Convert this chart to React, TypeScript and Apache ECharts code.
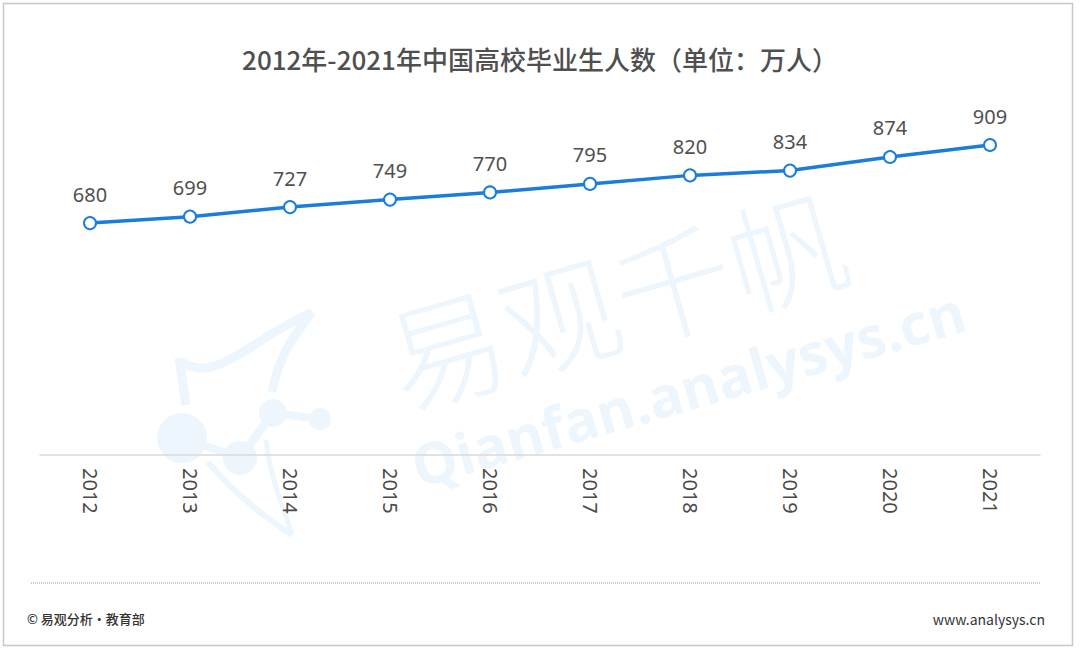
import React, { useEffect, useRef } from "react";
import * as echarts from "echarts";

const categories = ["2012", "2013", "2014", "2015", "2016", "2017", "2018", "2019", "2020", "2021"];
const graduates = [680, 699, 727, 749, 770, 795, 820, 834, 874, 909];
const titleText = "2012年-2021年中国高校毕业生人数（单位：万人）";
const sourceText = "© 易观分析·教育部";
const siteText = "www.analysys.cn";

const WM = "#edf6fd";

export default function App() {
  const ref = useRef<HTMLDivElement>(null);
  useEffect(() => {
    if (!ref.current) return;
    const chart = echarts.init(ref.current, null, { renderer: "svg" });
    const rot = (16 * Math.PI) / 180;
    chart.setOption({
      animation: false,
      backgroundColor: "#ffffff",
      title: {
        text: titleText,
        left: "center",
        top: 40,
        textStyle: {
          fontFamily: "Noto Sans CJK SC",
          fontSize: 26,
          fontWeight: 500,
          color: "#4f4f4f",
        },
      },
      graphic: [
        {
          type: "rect",
          z: -10,
          shape: { x: 3.5, y: 3.5, width: 1069, height: 642 },
          style: { fill: "#ffffff", stroke: "#c8c8c8", lineWidth: 1.5 },
        },
        // watermark logo
        { type: "circle", z: -5, shape: { cx: 182, cy: 438, r: 25 }, style: { fill: WM } },
        { type: "circle", z: -5, shape: { cx: 240, cy: 458, r: 17 }, style: { fill: WM } },
        { type: "circle", z: -5, shape: { cx: 273, cy: 413, r: 14 }, style: { fill: WM } },
        { type: "circle", z: -5, shape: { cx: 320, cy: 419, r: 11 }, style: { fill: WM } },
        { type: "line", z: -5, shape: { x1: 182, y1: 438, x2: 240, y2: 458 }, style: { stroke: WM, lineWidth: 8 } },
        { type: "line", z: -5, shape: { x1: 240, y1: 458, x2: 273, y2: 413 }, style: { stroke: WM, lineWidth: 8 } },
        { type: "line", z: -5, shape: { x1: 273, y1: 413, x2: 320, y2: 419 }, style: { stroke: WM, lineWidth: 8 } },
        { type: "line", z: -5, shape: { x1: 179, y1: 358, x2: 186, y2: 405 }, style: { stroke: WM, lineWidth: 9 } },
        {
          type: "bezierCurve", z: -5,
          shape: { x1: 182, y1: 362, x2: 312, y2: 312, cpx1: 215, cpy1: 385, cpx2: 250, cpy2: 340 },
          style: { stroke: WM, lineWidth: 9, fill: "none" },
        },
        {
          type: "bezierCurve", z: -5,
          shape: { x1: 312, y1: 312, x2: 272, y2: 392, cpx1: 290, cpy1: 340, cpx2: 278, cpy2: 360 },
          style: { stroke: WM, lineWidth: 9, fill: "none" },
        },
        {
          type: "bezierCurve", z: -5,
          shape: { x1: 208, y1: 462, x2: 292, y2: 535, cpx1: 240, cpy1: 500, cpx2: 270, cpy2: 520 },
          style: { stroke: WM, lineWidth: 6, fill: "none" },
        },
        {
          type: "bezierCurve", z: -5,
          shape: { x1: 266, y1: 440, x2: 292, y2: 535, cpx1: 270, cpy1: 480, cpx2: 285, cpy2: 510 },
          style: { stroke: WM, lineWidth: 5, fill: "none" },
        },
        // watermark text
        {
          type: "text", z: -5,
          x: 615, y: 295, rotation: rot,
          style: {
            text: "易观千帆",
            fontFamily: "Noto Sans CJK SC",
            fontSize: 118,
            fontWeight: 300,
            fill: WM,
            align: "center",
            verticalAlign: "middle",
          },
        },
        {
          type: "text", z: -5,
          x: 688, y: 388, rotation: rot,
          style: {
            text: "Qianfan.analysys.cn",
            fontFamily: "Open Sans",
            fontSize: 57,
            fontWeight: "bold",
            fill: WM,
            align: "center",
            verticalAlign: "middle",
          },
        },
        // dotted separator
        {
          type: "line",
          shape: { x1: 31, y1: 583, x2: 1041, y2: 583 },
          style: { stroke: "#9a9a9a", lineWidth: 1, lineDash: [1, 1] },
        },
        {
          type: "text",
          x: 27, y: 618,
          style: {
            text: sourceText,
            fontFamily: "Noto Sans CJK SC",
            fontSize: 13,
            fontWeight: 500,
            fill: "#333333",
            verticalAlign: "middle",
          },
        },
        {
          type: "text",
          x: 1045, y: 619,
          style: {
            text: siteText,
            fontFamily: "Noto Sans CJK SC",
            fontSize: 14,
            fill: "#333333",
            align: "right",
            verticalAlign: "middle",
          },
        },
      ],
      grid: { left: 40, right: 40, top: 114, bottom: 195, containLabel: false },
      xAxis: {
        type: "category",
        data: categories,
        boundaryGap: true,
        axisLine: { lineStyle: { color: "#d9d9d9", width: 1.5 } },
        axisTick: { show: false },
        axisLabel: {
          rotate: -90,
          margin: 13,
          fontFamily: "Noto Sans",
          fontSize: 20,
          color: "#4a4a4a",
        },
        splitLine: { show: false },
      },
      yAxis: {
        type: "value",
        min: 0,
        max: 1000,
        show: false,
        splitLine: { show: false },
      },
      series: [
        {
          type: "line",
          data: graduates,
          symbol: "emptyCircle",
          symbolSize: 12,
          lineStyle: { color: "#1b7ddb", width: 3.5 },
          itemStyle: { color: "#1b7ddb", borderWidth: 3, borderColor: "#1b7ddb" },
          label: {
            show: true,
            position: "top",
            distance: 12,
            fontFamily: "Noto Sans",
            fontSize: 20,
            color: "#505050",
          },
        },
      ],
    });
    return () => chart.dispose();
  }, []);
  return (
    <div
      ref={ref}
      style={{ position: "absolute", left: 0, top: 0, width: 1080, height: 650 }}
    />
  );
}
